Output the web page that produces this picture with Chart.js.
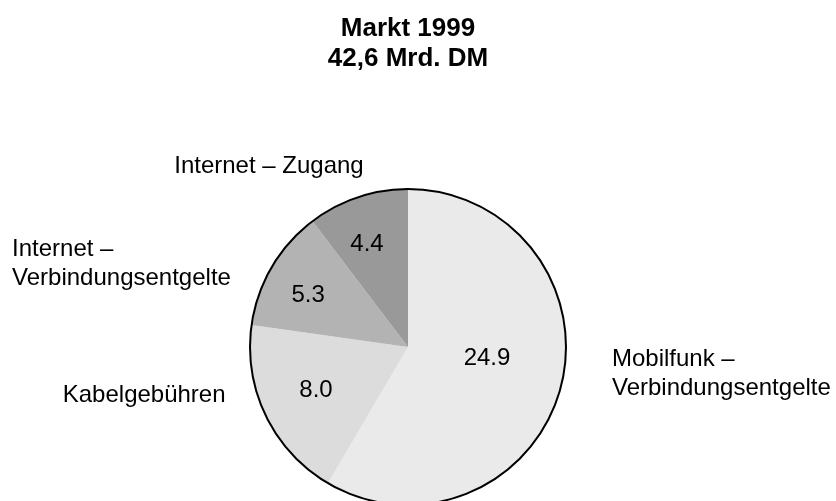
<!DOCTYPE html>
<html>
<head>
<meta charset="utf-8">
<script src="https://cdn.jsdelivr.net/npm/chart.js@4"></script>
<style>
  html, body { margin: 0; padding: 0; background: #fff; overflow: hidden; }
</style>
</head>
<body>
<canvas id="marketChart" width="836" height="505"></canvas>
<script>
// Data (Mrd. DM)
const categories = ["Mobilfunk – Verbindungsentgelte", "Kabelgebühren", "Internet – Verbindungsentgelte", "Internet – Zugang"];
const values = [24.9, 8.0, 5.3, 4.4];
const valueLabels = ["24.9", "8.0", "5.3", "4.4"];
const outerLabels = [["Mobilfunk –", "Verbindungsentgelte"], ["Kabelgebühren"], ["Internet –", "Verbindungsentgelte"], ["Internet – Zugang"]];
const titleLines = ["Markt 1999", "42,6 Mrd. DM"];
const sliceColors = ["#eaeaea", "#dcdcdc", "#b3b3b3", "#999999"];

const FONT = "'Liberation Sans', Arial, sans-serif";

// where the text goes, relative to the pie centre (in radius units)
const valuePlacement = [
    { frac: 0.505, turn: -7.3 },
    { frac: 0.643, turn: 0.7 },
    { frac: 0.713, turn: -2.9 },
    { frac: 0.702, turn: -3.1 }
];
const outerPlacement = [
    { dx: 1.291, dy: 0.168, align: "left" },
    { dx: -1.67, dy: 0.304, align: "center" },
    { dx: -2.506, dy: -0.525, align: "left" },
    { dx: -0.880, dy: -1.142, align: "center" }
];

const pieLabels = {
    id: "pieLabels",
    afterDatasetsDraw(chart) {
        const ctx = chart.ctx;
        const meta = chart.getDatasetMeta(0);
        const first = meta.data[0];
        const cx = first.x, cy = first.y, r = first.outerRadius;

        // outer circle only, no lines between slices
        ctx.save();
        ctx.beginPath();
        ctx.arc(cx, cy, r, 0, Math.PI * 2);
        ctx.lineWidth = 2;
        ctx.strokeStyle = "#000";
        ctx.stroke();

        ctx.fillStyle = "#000";
        ctx.font = "24px " + FONT;
        ctx.textBaseline = "middle";

        meta.data.forEach((arc, i) => {
            const p = valuePlacement[i];
            const mid = (arc.startAngle + arc.endAngle) / 2 + p.turn * Math.PI / 180;
            ctx.textAlign = "center";
            ctx.fillText(valueLabels[i], cx + Math.cos(mid) * r * p.frac, cy + Math.sin(mid) * r * p.frac);

            const o = outerPlacement[i];
            const lines = outerLabels[i];
            const lh = 29;
            const x = cx + o.dx * r;
            const y0 = cy + o.dy * r - (lines.length - 1) * lh / 2;
            ctx.textAlign = o.align;
            lines.forEach((line, k) => ctx.fillText(line, x, y0 + k * lh));
        });
        ctx.restore();
    }
};

const ctx = document.getElementById("marketChart").getContext("2d");
const marketChart = new Chart(ctx, {
    type: "pie",
    data: {
        labels: categories,
        datasets: [{
            data: values,
            backgroundColor: sliceColors,
            borderWidth: 0
        }]
    },
    options: {
        responsive: false,
        animation: false,
        layout: { padding: { left: 250, right: 270, top: 0, bottom: 0 } },
        plugins: {
            legend: { display: false },
            tooltip: { enabled: false },
            title: {
                display: true,
                text: titleLines,
                color: "#000",
                font: { family: FONT, size: 26, weight: "bold", lineHeight: 1.154 },
                padding: { top: 14, bottom: 115 }
            }
        }
    },
    plugins: [pieLabels]
});
</script>
</body>
</html>
